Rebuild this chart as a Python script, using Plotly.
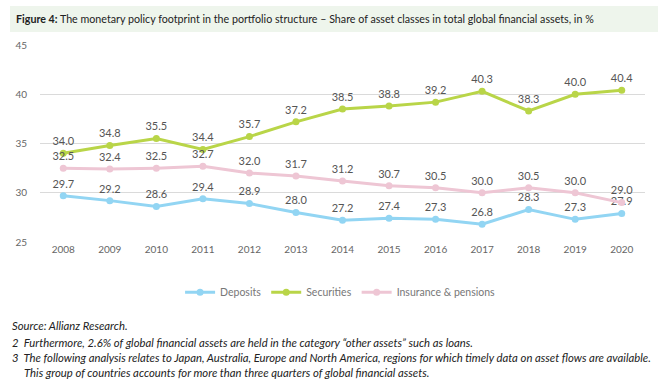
import plotly.graph_objects as go

years = [2008, 2009, 2010, 2011, 2012, 2013, 2014, 2015, 2016, 2017, 2018, 2019, 2020]
deposits = [29.7, 29.2, 28.6, 29.4, 28.9, 28.0, 27.2, 27.4, 27.3, 26.8, 28.3, 27.3, 27.9]
securities = [34.0, 34.8, 35.5, 34.4, 35.7, 37.2, 38.5, 38.8, 39.2, 40.3, 38.3, 40.0, 40.4]
insurance = [32.5, 32.4, 32.5, 32.7, 32.0, 31.7, 31.2, 30.7, 30.5, 30.0, 30.5, 30.0, 29.0]
series_names = ["Deposits", "Securities", "Insurance & pensions"]
y_ticks = [25, 30, 35, 40, 45]

colors = ["#92d5f3", "#b9d548", "#eec6d4"]
FONT = "Lato, sans-serif"

fig = go.Figure()
for name, vals, col in zip(series_names, [deposits, securities, insurance], colors):
    fig.add_trace(go.Scatter(
        x=years, y=vals, name=name, mode="lines+markers+text",
        line=dict(color=col, width=3),
        marker=dict(color=col, size=7),
        text=[f"{v:.1f}" for v in vals],
        textposition="top center",
        textfont=dict(family=FONT, size=11, color="#555555"),
        cliponaxis=False,
    ))

fig.update_layout(
    width=669, height=383,
    margin=dict(l=40, r=24, t=45, b=141),
    paper_bgcolor="white", plot_bgcolor="white",
    font=dict(family=FONT, size=10, color="#666666"),
    showlegend=True,
    legend=dict(orientation="h", x=0.496, xanchor="center", y=-0.255, yanchor="middle",
                font=dict(family=FONT, size=10.5, color="#777777"), itemwidth=30,
                traceorder="normal"),
    xaxis=dict(range=[2007.5, 2020.5], tickmode="array", tickvals=years,
               ticktext=[str(y) for y in years], showgrid=False, zeroline=False,
               showline=False, ticks="", tickfont=dict(size=10, color="#666666")),
    yaxis=dict(range=[25, 45], tickmode="array", tickvals=y_ticks,
               showgrid=True, gridcolor="#dadada", gridwidth=1, zeroline=False,
               showline=False, ticks="", ticklabelstandoff=12,
               tickfont=dict(size=10, color="#666666")),
)

# title band
fig.add_shape(type="rect", xref="paper", yref="paper",
              x0=-0.0496, x1=1.0215, y0=1.066, y1=1.198,
              fillcolor="#eef5ec", line=dict(width=0), layer="below")
fig.add_annotation(xref="paper", yref="paper", x=-0.043, y=1.135, xanchor="left", yanchor="middle",
                   showarrow=False, align="left",
                   text="<b>Figure 4:</b> The monetary policy footprint in the portfolio structure – Share of asset classes in total global financial assets, in %",
                   font=dict(family=FONT, size=10.7, color="#222222"))

notes = [
    (325, 10, "Source: Allianz Research."),
    (342, 10, "2  Furthermore, 2.6% of global financial assets are held in the category \u201cother assets\u201d such as loans."),
    (357, 10, "3  The following analysis relates to Japan, Australia, Europe and North America, regions for which timely data on asset flows are available."),
    (372, 22, "This group of countries accounts for more than three quarters of global financial assets."),
]
for ypx, xpx, t in notes:
    fig.add_annotation(xref="paper", yref="paper", x=(xpx - 40) / 605, y=(242 - ypx) / 197,
                       xanchor="left", yanchor="middle", showarrow=False, align="left",
                       text=f"<i>{t}</i>", font=dict(family=FONT, size=11.3, color="#222222"))

fig.write_html("out.html", config={"displayModeBar": False},
               post_script="document.body.style.margin='0';document.body.style.overflow='hidden';")
